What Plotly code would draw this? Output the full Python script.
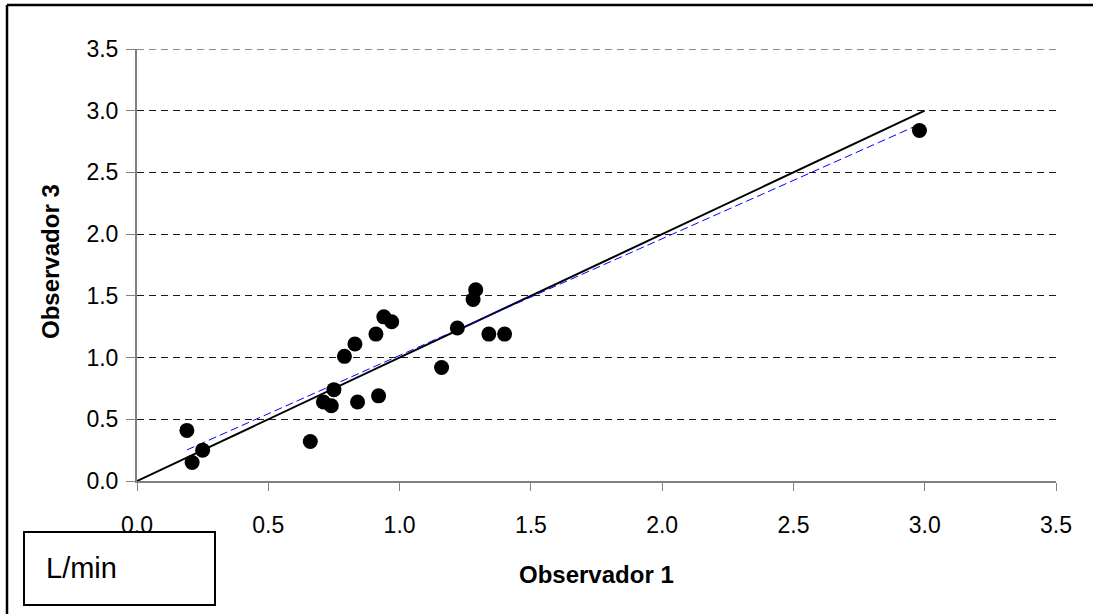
import numpy as np
import plotly.graph_objects as go

# Flow readings (L/min) from two observers
obs1 = [0.19, 0.21, 0.25, 0.66, 0.71, 0.74, 0.75, 0.79, 0.83, 0.84, 0.91,
        0.92, 0.94, 0.97, 1.16, 1.22, 1.28, 1.29, 1.34, 1.40, 2.98]
obs3 = [0.41, 0.15, 0.25, 0.32, 0.64, 0.61, 0.74, 1.01, 1.11, 0.64, 1.19,
        0.69, 1.33, 1.29, 0.92, 1.24, 1.47, 1.55, 1.19, 1.19, 2.84]

identity_x = [0.0, 3.0]
tick_vals = [0.0, 0.5, 1.0, 1.5, 2.0, 2.5, 3.0, 3.5]
tick_text = ["0.0", "0.5", "1.0", "1.5", "2.0", "2.5", "3.0", "3.5"]

# least-squares trend line over the observations
slope, intercept = np.polyfit(obs1, obs3, 1)
trend_x = [min(obs1), max(obs1)]
trend_y = [slope * v + intercept for v in trend_x]

W, H = 1093, 614
L, R, T, B = 137, 37, 49, 133
pw, ph = W - L - R, H - T - B


def px(x):
    return (x - L) / pw


def py(y):
    return (H - B - y) / ph


FONT = "Liberation Sans, Arial, sans-serif"
GRID_DASH = "7px,5px"

fig = go.Figure()
fig.add_trace(go.Scatter(x=identity_x, y=identity_x, mode="lines",
                         line=dict(color="black", width=2), hoverinfo="skip"))
fig.add_trace(go.Scatter(x=trend_x, y=trend_y, mode="lines",
                         line=dict(color="#0000ff", width=1, dash="8px,4px"),
                         hoverinfo="skip"))
fig.add_trace(go.Scatter(x=obs1, y=obs3, mode="markers",
                         marker=dict(color="black", size=15, line=dict(width=0))))

axis_common = dict(
    tickvals=tick_vals, ticktext=tick_text,
    showline=True, linecolor="#808080", linewidth=2,
    ticks="outside", tickcolor="#808080", tickwidth=1,
    zeroline=False, tickfont=dict(family=FONT, size=23, color="black"),
)

fig.update_xaxes(**axis_common, range=[0, 3.5], ticklen=8, ticklabelstandoff=14,
                 showgrid=False)
fig.update_yaxes(**axis_common, range=[0, 3.5], ticklen=9, ticklabelstandoff=3,
                 showgrid=True, gridcolor="#1a1a1a", gridwidth=1, griddash=GRID_DASH)

fig.update_layout(
    width=W, height=H, autosize=False,
    margin=dict(l=L, r=R, t=T, b=B, pad=0),
    paper_bgcolor="white", plot_bgcolor="white",
    showlegend=False,
    shapes=[
        # top gridline sits on the plot edge, so draw it explicitly
        dict(type="line", xref="x", yref="y",
             x0=tick_vals[0], x1=tick_vals[-1], y0=tick_vals[-1], y1=tick_vals[-1],
             line=dict(color="#1a1a1a", width=1, dash=GRID_DASH), layer="below"),
        # outer chart frame (open to the right and bottom edges)
        dict(type="line", xref="paper", yref="paper",
             x0=px(7), x1=px(1093), y0=py(5), y1=py(5),
             line=dict(color="black", width=2.5), layer="below"),
        dict(type="line", xref="paper", yref="paper",
             x0=px(7), x1=px(7), y0=py(5), y1=py(614),
             line=dict(color="black", width=2.5), layer="below"),
        # unit box
        dict(type="rect", xref="paper", yref="paper",
             x0=px(24), x1=px(215), y0=py(605), y1=py(532),
             line=dict(color="black", width=2), fillcolor="white"),
    ],
    annotations=[
        dict(text="<b>Observador 1</b>", xref="paper", yref="paper",
             x=px(596), y=py(574), xanchor="center", yanchor="middle",
             showarrow=False, font=dict(family=FONT, size=24, color="black")),
        dict(text="<b>Observador 3</b>", xref="paper", yref="paper",
             x=px(50), y=py(262), xanchor="center", yanchor="middle",
             textangle=-90, showarrow=False,
             font=dict(family=FONT, size=24, color="black")),
        dict(text="L/min", xref="paper", yref="paper",
             x=px(44), y=py(568), xanchor="left", yanchor="middle",
             showarrow=False, font=dict(family=FONT, size=29, color="black")),
    ],
)

fig.write_html("out.html")
